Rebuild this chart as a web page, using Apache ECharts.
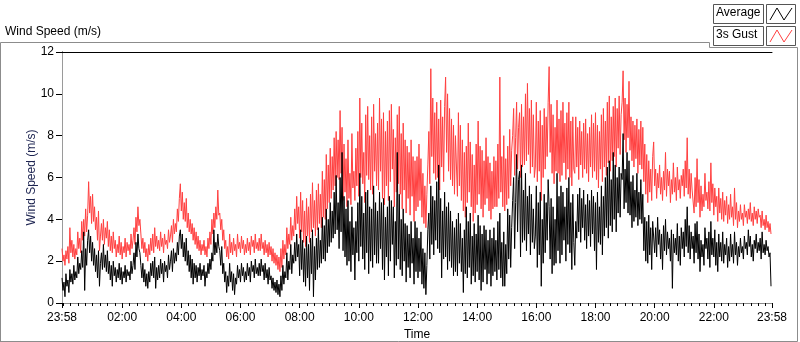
<!DOCTYPE html>
<html>
<head>
<meta charset="utf-8">
<script src="https://cdn.jsdelivr.net/npm/echarts@6/dist/echarts.min.js"></script>
<style>
  html, body { margin: 0; padding: 0; background: #fff; }
  #chart { width: 800px; height: 342px; }
</style>
</head>
<body>
<div id="chart"></div>
<script>
// one sample every 2 minutes, starting at 23:58
const stepMinutes = 2;

const gust = [
  2.6, 2.0, 2.3, 1.8, 2.5, 2.1, 2.7, 1.9, 3.6, 2.4, 3.0, 2.2, 2.8, 2.1, 2.6, 2.3, 3.4, 2.6, 3.1, 2.4,
  3.9, 3.0, 4.0, 3.2, 4.5, 3.4, 4.2, 5.8, 4.3, 5.1, 3.8, 5.2, 3.9, 4.6, 3.5, 4.1, 3.0, 4.4, 2.5, 3.2,
  3.8, 3.0, 4.0, 2.8, 3.6, 3.1, 3.9, 2.7, 3.5, 2.5, 3.2, 2.4, 3.4, 2.6, 3.0, 2.2, 2.8, 2.4, 3.2, 2.3,
  2.9, 2.1, 2.7, 2.4, 3.1, 2.2, 2.9, 2.5, 2.8, 2.3, 3.3, 2.6, 3.0, 3.6, 2.8, 4.1, 3.4, 4.6, 3.7, 4.0,
  3.3, 2.6, 3.1, 2.4, 2.9, 2.2, 2.6, 2.0, 2.8, 2.3, 3.1, 2.5, 3.3, 2.4, 3.6, 2.7, 3.2, 2.6, 3.0, 2.5,
  3.4, 2.7, 3.1, 2.4, 3.3, 2.8, 3.0, 2.6, 3.5, 2.9, 3.2, 3.7, 2.9, 4.0, 3.3, 3.8, 3.4, 4.5, 3.9, 5.0,
  5.7, 4.4, 5.3, 4.0, 4.8, 3.9, 5.0, 3.6, 4.3, 3.4, 4.0, 3.3, 3.8, 3.0, 3.6, 2.8, 3.4, 2.6, 3.2, 2.5,
  3.0, 2.3, 2.8, 2.5, 3.0, 2.3, 2.7, 2.2, 3.1, 2.6, 3.4, 2.8, 4.0, 3.3, 4.3, 3.6, 4.6, 4.0, 5.4, 4.2,
  4.3, 3.5, 4.0, 3.0, 3.5, 2.6, 3.0, 2.2, 2.7, 2.1, 3.3, 2.4, 2.9, 2.3, 3.1, 2.5, 2.8, 2.2, 3.3, 2.6,
  2.9, 2.4, 3.2, 2.6, 3.0, 2.3, 2.8, 2.4, 3.1, 2.5, 2.9, 2.3, 3.2, 2.7, 3.0, 2.4, 3.3, 2.6, 2.9, 2.5,
  3.1, 2.5, 3.3, 2.6, 2.9, 2.3, 3.0, 2.4, 2.8, 2.2, 2.9, 2.3, 2.7, 2.0, 2.6, 1.9, 2.4, 1.8, 2.3, 1.6,
  2.2, 1.5, 2.6, 1.7, 3.0, 2.1, 2.8, 2.3, 3.6, 2.6, 3.3, 2.8, 4.1, 3.0, 3.7, 3.2, 4.5, 3.5, 5.1, 3.8,
  4.6, 3.1, 5.3, 3.4, 4.9, 2.9, 4.4, 2.7, 5.0, 3.2, 4.6, 2.9, 5.2, 3.4, 5.75, 3.6, 4.9, 3.2, 5.4, 3.5,
  5.7, 3.8, 5.2, 3.6, 6.3, 4.1, 5.9, 4.0, 7.1, 4.5, 6.6, 4.8, 7.4, 5.0, 7.0, 5.4, 7.9, 5.6, 8.2, 6.0,
  7.8, 5.9, 9.2, 6.2, 8.4, 4.9, 7.6, 5.3, 6.9, 4.6, 7.8, 5.0, 6.2, 4.7, 8.1, 5.5, 6.3, 4.9, 7.4, 5.6,
  8.2, 5.1, 9.8, 6.0, 8.6, 5.7, 7.2, 4.8, 9.0, 6.1, 9.4, 5.9, 8.0, 5.4, 8.9, 5.2, 9.5, 6.3, 8.1, 5.6,
  8.6, 5.4, 9.8, 6.3, 8.8, 5.0, 9.1, 4.7, 8.2, 5.6, 8.7, 4.9, 9.2, 5.8, 9.5, 6.4, 8.3, 4.6, 7.9, 5.3,
  9.0, 5.7, 9.4, 5.2, 8.1, 4.5, 8.6, 5.4, 7.8, 4.3, 7.5, 5.0, 7.2, 4.2, 7.8, 5.1, 7.0, 3.9, 6.8, 4.4,
  7.0, 4.6, 7.6, 4.9, 6.9, 4.1, 6.2, 3.8, 5.6, 3.6, 5.2, 6.6, 8.2, 5.7, 11.2, 7.0, 9.8, 6.2, 9.1, 5.9,
  9.6, 6.0, 8.8, 5.4, 9.7, 6.5, 8.9, 5.8, 9.4, 10.8, 7.2, 10.0, 6.3, 9.3, 5.9, 8.8, 5.6, 8.5, 5.2, 8.0,
  8.0, 5.1, 9.1, 5.6, 8.5, 4.9, 7.8, 4.4, 7.2, 4.1, 7.5, 4.8, 8.6, 5.3, 7.7, 4.6, 7.1, 3.9, 6.6, 4.3,
  7.6, 4.7, 8.7, 5.2, 7.5, 4.5, 7.3, 4.1, 6.8, 4.7, 7.9, 5.0, 7.0, 4.4, 6.7, 4.0, 6.3, 4.5, 7.0, 4.6,
  6.8, 4.6, 7.6, 5.0, 10.8, 5.3, 7.0, 4.6, 8.0, 4.4, 6.9, 4.7, 7.5, 5.0, 8.3, 5.6, 7.3, 8.0, 9.3, 6.1,
  7.9, 9.6, 6.4, 8.4, 9.1, 6.0, 9.5, 6.5, 8.9, 6.6, 10.0, 6.8, 10.5, 7.1, 9.3, 6.2, 9.7, 6.5, 9.0, 6.0,
  6.5, 9.6, 5.8, 8.7, 6.3, 9.2, 4.9, 8.5, 6.0, 9.3, 6.4, 8.9, 7.0, 9.6, 11.3, 7.2, 9.5, 6.2, 9.0, 5.7,
  8.4, 6.3, 9.7, 6.2, 8.8, 5.8, 9.2, 6.1, 9.6, 6.7, 8.6, 5.9, 9.1, 6.4, 9.6, 6.0, 8.7, 5.6, 8.9, 6.4,
  6.2, 8.9, 6.5, 8.4, 5.9, 8.7, 6.6, 8.2, 6.0, 8.6, 6.4, 8.8, 6.2, 8.1, 5.8, 8.4, 6.5, 9.0, 6.0, 8.6,
  6.3, 9.1, 5.9, 8.5, 5.5, 8.2, 6.4, 9.0, 5.8, 9.3, 6.5, 8.7, 6.1, 9.6, 6.7, 9.9, 6.3, 8.9, 6.8, 9.4,
  7.0, 9.8, 6.5, 9.3, 7.4, 9.9, 7.1, 9.0, 9.6, 11.1, 7.8, 9.8, 7.2, 9.5, 7.9, 10.6, 7.3, 8.9, 6.8, 8.7,
  6.5, 8.5, 6.9, 8.8, 6.2, 8.3, 6.6, 8.7, 6.4, 8.4, 5.8, 7.6, 5.2, 7.1, 4.8, 6.8, 5.3, 6.4, 4.9, 7.0,
  7.7, 5.6, 6.4, 5.0, 6.2, 5.5, 6.6, 5.2, 6.0, 4.9, 6.3, 5.4, 7.2, 5.1, 6.4, 5.6, 6.3, 4.8, 5.9, 5.2,
  6.7, 5.3, 6.0, 4.9, 6.5, 5.4, 5.9, 5.0, 6.1, 5.6, 6.4, 5.1, 6.8, 5.5, 7.9, 5.2, 6.4, 5.0, 6.2, 5.4,
  5.4, 4.3, 6.0, 4.6, 6.9, 4.8, 5.9, 4.1, 5.6, 4.4, 5.2, 4.6, 6.2, 4.9, 5.3, 4.5, 5.8, 4.4, 6.7, 4.8,
  5.7, 4.2, 5.5, 4.6, 5.1, 3.9, 5.5, 4.3, 5.0, 4.0, 5.3, 3.9, 4.9, 4.2, 5.1, 3.8, 4.7, 4.0, 5.2, 4.1,
  4.6, 3.7, 5.5, 4.0, 4.8, 3.6, 4.4, 3.9, 4.7, 4.0, 4.3, 3.7, 4.7, 4.1, 4.4, 3.8, 4.5, 4.0, 4.8, 3.9,
  4.3, 3.7, 4.6, 4.0, 4.4, 3.8, 4.5, 4.1, 4.2, 3.6, 4.4, 3.7, 4.0, 3.5, 4.2, 3.6, 3.9, 3.4, 3.8, 3.3
];

const average = [
  1.2, 0.6, 1.0, 0.3, 1.4, 0.8, 1.1, 0.5, 1.6, 1.0, 1.4, 0.9, 1.8, 1.1, 1.5, 1.2, 2.2, 1.4, 1.9, 1.6,
  2.5, 1.7, 3.4, 0.6, 2.6, 1.8, 3.0, 3.5, 2.4, 3.2, 2.0, 2.9, 1.8, 2.6, 1.5, 2.3, 1.2, 2.5, 0.8, 1.9,
  2.4, 1.6, 2.8, 1.7, 2.3, 1.5, 2.5, 1.4, 2.0, 1.1, 1.8, 0.8, 2.0, 1.3, 1.7, 1.0, 1.6, 1.2, 1.9, 1.1,
  1.7, 0.9, 1.5, 1.2, 1.8, 1.0, 1.6, 1.3, 1.5, 1.1, 2.0, 1.4, 1.8, 2.4, 1.6, 2.9, 2.2, 3.3, 2.6, 2.4,
  1.8, 1.2, 1.9, 1.0, 1.6, 0.8, 1.4, 0.7, 1.5, 1.0, 1.9, 1.3, 2.0, 1.2, 2.2, 0.7, 1.7, 1.1, 1.8, 1.2,
  2.1, 1.4, 1.9, 1.0, 2.0, 1.5, 1.8, 1.2, 2.3, 1.6, 2.0, 2.5, 1.5, 2.6, 1.9, 2.4, 2.0, 2.9, 2.3, 3.2,
  3.5, 2.6, 3.3, 2.2, 2.9, 2.0, 3.1, 1.8, 2.5, 1.5, 2.3, 1.2, 2.1, 0.9, 1.9, 1.2, 1.8, 1.0, 1.7, 1.3,
  1.9, 1.1, 1.6, 1.3, 1.8, 0.8, 1.5, 1.2, 1.9, 1.4, 2.1, 1.6, 2.4, 2.0, 3.5, 2.3, 2.9, 2.4, 3.3, 2.7,
  2.5, 1.8, 2.7, 1.4, 1.9, 1.0, 1.5, 0.5, 1.3, 0.8, 1.9, 1.0, 1.5, 0.6, 1.4, 0.4, 1.2, 0.9, 1.8, 1.2,
  1.6, 1.0, 1.9, 1.3, 1.7, 1.0, 1.5, 1.1, 1.9, 1.3, 1.7, 1.0, 2.0, 1.5, 1.8, 1.2, 2.1, 1.4, 1.7, 1.3,
  1.9, 1.3, 2.1, 1.5, 1.8, 1.1, 1.9, 1.2, 1.6, 0.9, 1.7, 1.1, 1.3, 0.7, 1.2, 0.6, 1.0, 0.5, 1.1, 0.4,
  0.9, 0.3, 1.3, 0.6, 1.8, 0.9, 1.5, 1.2, 2.4, 1.1, 2.0, 1.6, 2.8, 1.4, 2.3, 1.9, 2.9, 2.0, 3.3, 2.2,
  2.8, 1.3, 3.5, 1.6, 3.0, 1.0, 2.6, 0.8, 3.2, 1.2, 2.8, 0.6, 3.1, 1.4, 3.5, 0.3, 2.7, 1.1, 3.1, 1.6,
  3.6, 1.7, 3.0, 1.9, 4.1, 2.1, 3.7, 2.0, 4.5, 2.4, 4.0, 2.7, 4.8, 2.9, 4.4, 3.1, 5.3, 3.3, 6.1, 3.5,
  4.8, 2.6, 6.0, 3.4, 7.2, 2.5, 5.1, 2.2, 4.5, 1.8, 4.9, 2.0, 3.9, 1.5, 4.6, 2.3, 3.6, 1.1, 3.9, 2.4,
  4.8, 2.0, 6.2, 2.7, 5.1, 2.1, 4.3, 1.6, 5.3, 2.4, 5.4, 1.4, 4.6, 2.0, 4.5, 1.7, 5.6, 2.3, 4.8, 1.9,
  4.4, 1.9, 5.3, 2.6, 4.8, 1.6, 5.0, 1.1, 4.1, 2.2, 4.6, 1.3, 5.1, 2.0, 4.9, 2.8, 4.6, 1.2, 3.9, 1.8,
  7.2, 2.1, 5.2, 1.6, 4.0, 1.3, 4.5, 2.0, 3.8, 1.0, 3.7, 1.7, 3.3, 1.2, 3.9, 1.9, 3.1, 0.9, 3.9, 1.5,
  3.6, 1.2, 3.1, 1.5, 3.4, 0.9, 2.6, 0.7, 2.4, 0.4, 1.8, 3.5, 4.3, 2.1, 5.6, 2.8, 5.1, 2.3, 4.9, 3.0,
  5.8, 2.6, 6.6, 2.4, 5.0, 1.2, 4.4, 2.1, 5.3, 2.2, 4.6, 1.6, 4.8, 2.0, 4.4, 1.7, 3.9, 1.3, 3.6, 1.5,
  4.0, 1.3, 4.3, 1.9, 3.8, 1.5, 3.1, 0.5, 3.5, 1.4, 4.6, 1.2, 3.9, 1.7, 4.3, 0.9, 3.2, 1.3, 3.8, 1.0,
  3.3, 1.5, 4.2, 1.1, 3.7, 0.6, 3.3, 1.0, 3.7, 1.6, 3.5, 0.9, 3.0, 1.4, 3.5, 0.8, 3.1, 1.3, 3.6, 1.5,
  3.0, 1.1, 3.9, 1.6, 4.3, 1.2, 2.9, 0.8, 3.4, 0.8, 2.8, 1.4, 4.5, 2.1, 4.2, 1.7, 3.6, 4.9, 6.0, 2.6,
  4.8, 7.1, 3.4, 5.9, 6.3, 2.2, 6.6, 2.9, 5.4, 3.0, 6.2, 2.5, 5.1, 3.3, 5.6, 2.3, 5.2, 2.9, 4.5, 2.6,
  3.2, 5.6, 1.7, 4.8, 2.3, 5.3, 0.8, 4.0, 1.9, 5.2, 2.4, 4.8, 3.0, 5.9, 4.6, 2.1, 5.0, 1.4, 4.6, 1.8,
  4.0, 1.9, 6.2, 2.5, 5.1, 1.9, 5.6, 2.3, 5.3, 3.0, 4.6, 2.0, 5.5, 2.8, 6.0, 2.4, 4.8, 1.6, 5.2, 2.9,
  1.8, 3.9, 3.1, 5.2, 3.4, 5.5, 2.9, 5.0, 3.6, 5.4, 3.0, 4.7, 2.6, 5.2, 3.2, 4.9, 2.7, 5.4, 3.3, 5.1,
  2.5, 4.8, 1.6, 5.3, 2.9, 4.6, 2.8, 5.6, 2.3, 5.1, 3.2, 6.0, 3.6, 6.5, 3.1, 6.8, 3.7, 5.9, 3.4, 7.2,
  4.0, 6.6, 3.4, 6.0, 4.3, 6.5, 4.1, 6.2, 5.9, 8.1, 4.5, 6.4, 4.8, 7.2, 4.3, 6.8, 4.2, 5.8, 3.6, 6.1,
  3.9, 5.4, 4.1, 6.2, 3.7, 5.3, 4.0, 5.9, 3.8, 5.2, 2.5, 4.1, 2.0, 3.9, 1.9, 4.2, 2.3, 3.6, 1.6, 3.9,
  3.9, 2.4, 3.6, 2.2, 4.1, 2.8, 3.5, 2.1, 3.3, 1.6, 3.7, 2.5, 4.0, 2.3, 3.4, 2.6, 3.1, 2.0, 3.5, 0.7,
  3.3, 2.4, 3.1, 2.3, 3.8, 2.0, 3.2, 1.8, 3.6, 2.6, 3.4, 2.2, 4.0, 2.7, 4.6, 2.4, 3.7, 2.1, 3.4, 2.6,
  3.2, 1.9, 3.8, 2.4, 3.9, 2.1, 3.3, 1.5, 3.0, 2.2, 2.8, 1.8, 3.6, 2.6, 3.1, 2.1, 3.4, 1.7, 3.9, 2.3,
  3.1, 2.2, 3.5, 1.8, 2.9, 1.5, 3.3, 2.2, 2.9, 2.0, 3.4, 1.9, 2.8, 2.3, 3.1, 1.7, 2.7, 2.0, 3.3, 2.2,
  2.8, 1.9, 3.4, 2.3, 2.9, 1.8, 2.7, 2.2, 3.1, 2.4, 2.7, 2.1, 3.2, 2.6, 2.9, 2.3, 3.5, 2.7, 3.2, 2.2,
  2.8, 2.0, 3.0, 2.6, 3.3, 2.4, 2.9, 2.5, 3.1, 2.1, 3.4, 2.4, 2.8, 2.3, 3.0, 2.5, 2.7, 2.2, 2.4, 0.8
];

// x = minutes after 23:58
const majorTicks = [0, 122, 242, 362, 482, 602, 722, 842, 962, 1082, 1202, 1322, 1440];
const minorTicks = [];
for (let m = 2; m <= 1440; m += 15) minorTicks.push(m);

const font = 'Liberation Sans, Arial, sans-serif';

const toTime = (v) => {
  const t = (v + 1438) % 1440;
  const h = Math.floor(t / 60);
  const m = t % 60;
  return String(h).padStart(2, '0') + ':' + String(m).padStart(2, '0');
};

const gustData = gust.map((v, i) => [i * stepMinutes, v]);
const avgData = average.map((v, i) => [i * stepMinutes, v]);

const chart = echarts.init(document.getElementById('chart'), null, { renderer: 'canvas' });

chart.setOption({
  animation: false,
  backgroundColor: '#fff',
  grid: {
    left: 62, right: 28, top: 52, bottom: 39,
    containLabel: false,
    outerBoundsMode: 'none'
  },
  xAxis: [
    {
      type: 'value', min: 0, max: 1440, position: 'bottom',
      axisLine: { show: true, lineStyle: { color: '#8a8a8a', width: 1 } },
      axisTick: { show: true, customValues: majorTicks, length: 5, lineStyle: { color: '#000' } },
      axisLabel: {
        show: true, customValues: majorTicks, formatter: toTime, margin: 9,
        color: '#000', fontSize: 12, fontFamily: font
      },
      splitLine: { show: false },
      name: 'Time', nameLocation: 'middle', nameGap: 26,
      nameTextStyle: { color: '#000', fontSize: 12, fontFamily: font }
    },
    {
      type: 'value', min: 0, max: 1440, position: 'bottom',
      axisLine: { show: false },
      axisTick: { show: true, customValues: minorTicks, length: 3, lineStyle: { color: '#000' } },
      axisLabel: { show: false },
      splitLine: { show: false }
    },
    {
      type: 'value', min: 0, max: 1440, position: 'top',
      axisLine: { show: true, lineStyle: { color: '#000', width: 1 } },
      axisTick: { show: false }, axisLabel: { show: false }, splitLine: { show: false }
    }
  ],
  yAxis: [
    {
      type: 'value', min: 0, max: 12, interval: 2, position: 'left',
      axisLine: { show: true, lineStyle: { color: '#000', width: 1 } },
      axisTick: { show: true, length: 6, lineStyle: { color: '#000' } },
      axisLabel: { color: '#000', fontSize: 12, fontFamily: font, margin: 8 },
      splitLine: { show: false },
      name: 'Wind Speed (m/s)', nameLocation: 'middle', nameGap: 24, nameRotate: 90,
      nameMoveOverlap: false,
      nameTextStyle: { color: '#1c2350', fontSize: 12, fontFamily: font }
    },
    {
      type: 'value', min: 0, max: 12, position: 'right',
      axisLine: { show: true, lineStyle: { color: '#9a9a9a', width: 1 } },
      axisTick: { show: false }, axisLabel: { show: false }, splitLine: { show: false }
    }
  ],
  series: [
    {
      name: '3s Gust', type: 'line', data: gustData, xAxisIndex: 0, yAxisIndex: 0,
      showSymbol: false, symbol: 'none', sampling: false,
      lineStyle: { color: '#ff4040', width: 1 }, z: 2
    },
    {
      name: 'Average', type: 'line', data: avgData, xAxisIndex: 0, yAxisIndex: 0,
      showSymbol: false, symbol: 'none', sampling: false,
      lineStyle: { color: '#000', width: 1 }, z: 3
    }
  ],
  graphic: [
    // outer panel frame
    {
      type: 'polyline', silent: true,
      shape: { points: [[0.5, 342], [0.5, 42.5], [709.5, 42.5], [709.5, 47.5], [797.5, 47.5], [797.5, 341.5], [0, 341.5]] },
      style: { stroke: '#8c8c8c', fill: null, lineWidth: 1 }
    },
    {
      type: 'text', left: 5, top: 26,
      style: { text: 'Wind Speed (m/s)', fill: '#000', font: '12px ' + font }
    },
    // legend: Average
    { type: 'rect', shape: { x: 713.5, y: 4.5, width: 50, height: 19 }, style: { fill: '#fff', stroke: '#555', lineWidth: 1 } },
    { type: 'text', left: 716, top: 7, style: { text: 'Average', fill: '#000', font: '12px ' + font } },
    { type: 'rect', shape: { x: 766.5, y: 4.5, width: 29, height: 19 }, style: { fill: '#fff', stroke: '#555', lineWidth: 1 } },
    { type: 'polyline', shape: { points: [[770, 20], [777, 8], [784, 20], [792, 8]] }, style: { stroke: '#000', fill: null, lineWidth: 1 } },
    // legend: 3s Gust
    { type: 'rect', shape: { x: 713.5, y: 26.5, width: 50, height: 19 }, style: { fill: '#fff', stroke: '#555', lineWidth: 1 } },
    { type: 'text', left: 716, top: 29, style: { text: '3s Gust', fill: '#000', font: '12px ' + font } },
    { type: 'rect', shape: { x: 766.5, y: 26.5, width: 29, height: 19 }, style: { fill: '#fff', stroke: '#555', lineWidth: 1 } },
    { type: 'polyline', shape: { points: [[770, 42], [777, 30], [784, 42], [792, 30]] }, style: { stroke: '#ff4040', fill: null, lineWidth: 1 } }
  ]
});
</script>
</body>
</html>
